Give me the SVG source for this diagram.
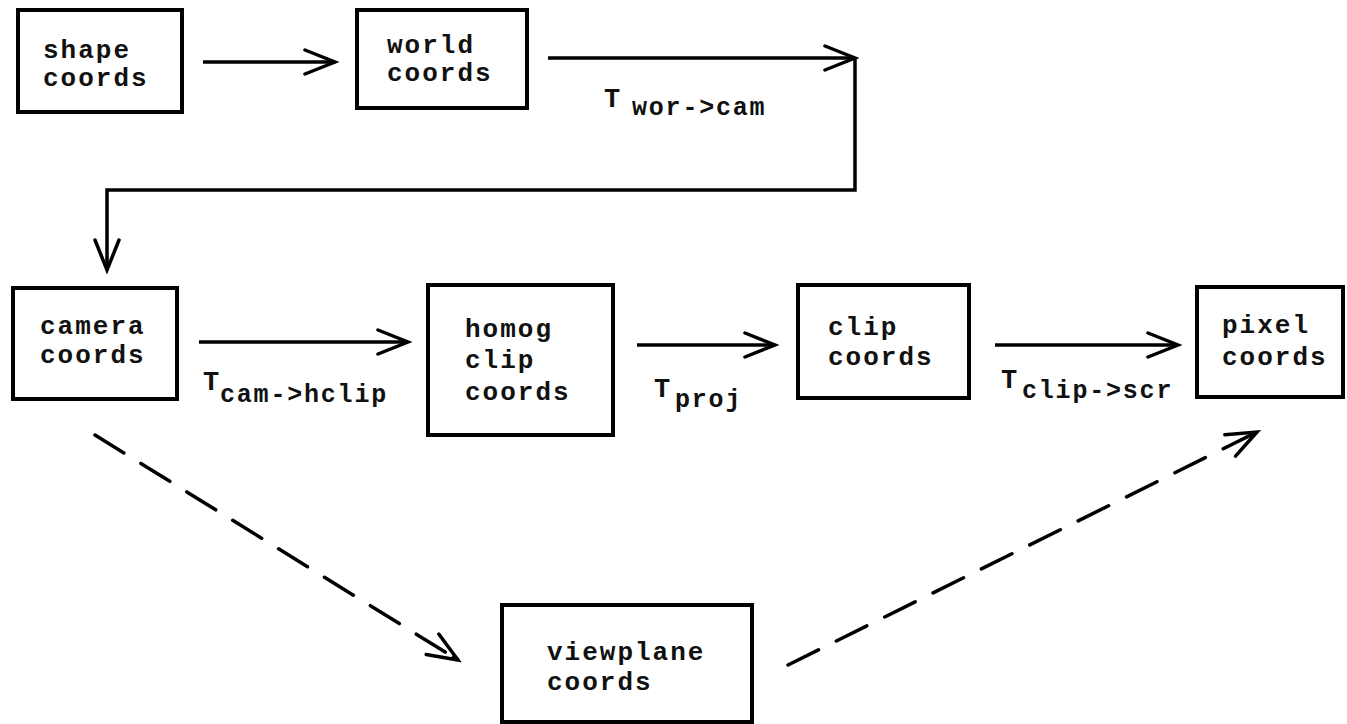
<svg xmlns="http://www.w3.org/2000/svg" width="1347" height="724" viewBox="0 0 1347 724">
<defs>
<marker id="arr" markerUnits="userSpaceOnUse" viewBox="-34 -16 38 32" markerWidth="38" markerHeight="32" refX="0" refY="0" orient="auto">
<path d="M-30,-12 L0,0 L-30,12" fill="none" stroke="#000" stroke-width="3.5" stroke-linecap="round" stroke-linejoin="miter"/>
</marker>
<style>
.box{fill:#fff;stroke:#000;stroke-width:4}
.t{font-family:"Liberation Mono","DejaVu Sans Mono",monospace;font-weight:bold;font-size:26px;letter-spacing:2px;fill:#111}
.T{font-family:"Liberation Mono","DejaVu Sans Mono",monospace;font-weight:bold;font-size:27px;fill:#111}
.sub{font-family:"Liberation Mono","DejaVu Sans Mono",monospace;font-weight:bold;font-size:25px;letter-spacing:1.8px;fill:#111}
.c{fill:none;stroke:#000;stroke-width:3.5}
.d{fill:none;stroke:#000;stroke-width:3.5;stroke-dasharray:34 20;stroke-linecap:round}
</style>
</defs>
<rect width="1347" height="724" fill="#fff"/>
<g id="connectors">
<path class="c" d="M203,62 H335" marker-end="url(#arr)"/>
<path class="c" d="M548,58 H855" marker-end="url(#arr)"/>
<path class="c" d="M855,58 V190 H107 V270" marker-end="url(#arr)"/>
<path class="c" d="M199,342 H408" marker-end="url(#arr)"/>
<path class="c" d="M637,345 H775" marker-end="url(#arr)"/>
<path class="c" d="M995,345 H1178" marker-end="url(#arr)"/>
<path class="d" d="M95,435 L458,660"/>
<path class="c" d="M452,656.3 L458,660" marker-end="url(#arr)"/>
<path class="d" d="M788,665 L1257,432"/>
<path class="c" d="M1251,435 L1257,432" marker-end="url(#arr)"/>
<text class="T" x="604" y="107">T</text><text class="sub" x="632" y="115">wor-&gt;cam</text>
<text class="T" x="203" y="390">T</text><text class="sub" x="220" y="402">cam-&gt;hclip</text>
<text class="T" x="654" y="397">T</text><text class="sub" x="675" y="407">proj</text>
<text class="T" x="1001" y="388">T</text><text class="sub" x="1022" y="398">clip-&gt;scr</text>
</g>
<g id="shape"><rect class="box" x="18" y="10" width="164" height="102"/><text class="t" x="43" y="58">shape</text><text class="t" x="43" y="86">coords</text></g>
<g id="world"><rect class="box" x="357" y="10" width="170" height="98"/><text class="t" x="387" y="53">world</text><text class="t" x="387" y="81">coords</text></g>
<g id="camera"><rect class="box" x="13" y="288" width="164" height="111"/><text class="t" x="40" y="334">camera</text><text class="t" x="40" y="363">coords</text></g>
<g id="homog"><rect class="box" x="428" y="285" width="185" height="150"/><text class="t" x="465" y="337">homog</text><text class="t" x="465" y="368">clip</text><text class="t" x="465" y="400">coords</text></g>
<g id="clip"><rect class="box" x="798" y="285" width="171" height="113"/><text class="t" x="828" y="335">clip</text><text class="t" x="828" y="365">coords</text></g>
<g id="pixel"><rect class="box" x="1197" y="287" width="146" height="110"/><text class="t" x="1222" y="333">pixel</text><text class="t" x="1222" y="365">coords</text></g>
<g id="viewplane"><rect class="box" x="502" y="605" width="250" height="117"/><text class="t" x="547" y="660">viewplane</text><text class="t" x="547" y="690">coords</text></g>
</svg>
